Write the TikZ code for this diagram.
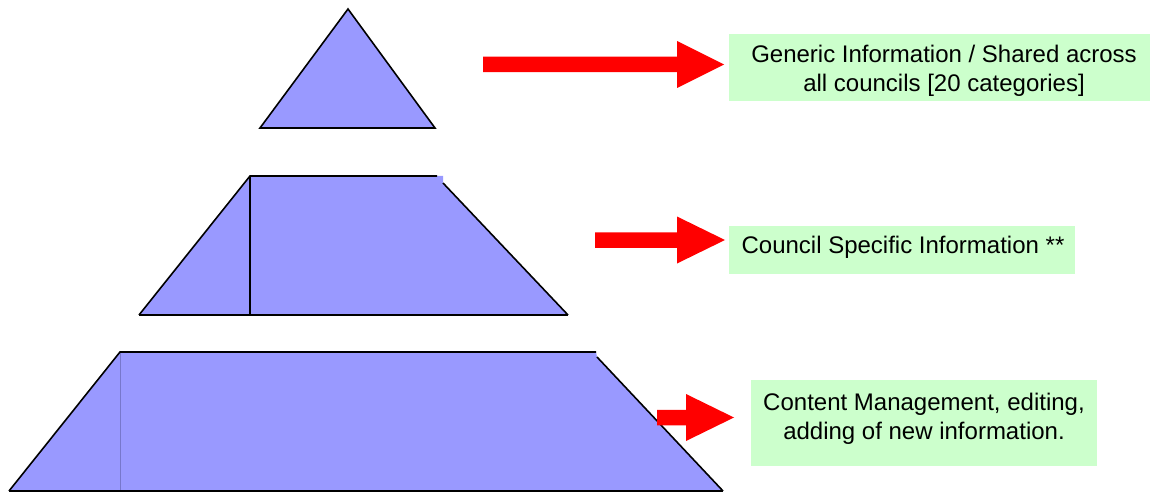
\documentclass[tikz,border=0pt]{standalone}
\usepackage{fontspec}
\setmainfont{Liberation Sans}
\definecolor{tierblue}{HTML}{9999FF}
\definecolor{tierline}{HTML}{7777CC}
\definecolor{notegreen}{HTML}{CCFFCC}
\definecolor{arrowred}{HTML}{FF0000}
% block arrow: start x, head x, tip x, centre y
\newcommand\blockarrow[4]{%
  \fill[arrowred] (#1,#4-7.75) -- (#2,#4-7.75) -- (#2,#4-23.5) -- (#3,#4)
    -- (#2,#4+23.5) -- (#2,#4+7.75) -- (#1,#4+7.75) -- cycle;}
\begin{document}
\begin{tikzpicture}[x=1pt,y=-1pt,
  tier/.style={fill=tierblue},
  outline/.style={draw=black,line width=1.6pt},
  notebox/.style={fill=notegreen,inner sep=0pt,rectangle},
  notetext/.style={font=\fontsize{24}{29}\selectfont,align=center,inner sep=0pt}]
\useasboundingbox (0,0) rectangle (1152,492);

% top tier: triangle
\filldraw[tier,outline] (260,128) -- (348,9) -- (435,128) -- cycle;

% middle tier
\fill[tier] (139,315) -- (250,176) -- (443,176) -- (443,183) -- (568,315) -- cycle;
\draw[outline] (139,315) -- (250,176) -- (437,176);
\draw[outline] (250,176) -- (250,315);
\draw[outline] (443,183) -- (568,315);
\draw[outline] (139,315) -- (568,315);
\draw[line width=2.6pt] (443,315) -- (493,315);

% bottom tier
\fill[tier] (9,491) -- (120,352) -- (596,352) -- (597,357) -- (723,491) -- cycle;
\draw[draw=tierline,line width=0.8pt] (120,352) -- (120,491);
\draw[outline] (9,491) -- (120,352) -- (596,352);
\draw[outline] (597,357) -- (723,491);
\draw[outline] (9,491) -- (723,491);

% description boxes
\node[notebox,minimum width=421pt,minimum height=67pt] (genbox) at (939.5,67.5) {};
\node[notetext] (gentext) at (944,70.5) {Generic Information / Shared across\\all councils [20 categories]};

\node[notebox,minimum width=346pt,minimum height=48pt] (cspbox) at (902,250) {};
\node[notetext] (csptext) at (903,247) {Council Specific Information **};

\node[notebox,minimum width=346pt,minimum height=86pt] (cmbox) at (924,423) {};
\node[notetext] (cmtext) at (924,419) {Content Management, editing,\\adding of new information.};

% arrows
\blockarrow{483}{677}{724}{64.5}
\blockarrow{595}{677}{725}{240}
\blockarrow{657}{686}{734}{417.5}
\end{tikzpicture}
\end{document}
